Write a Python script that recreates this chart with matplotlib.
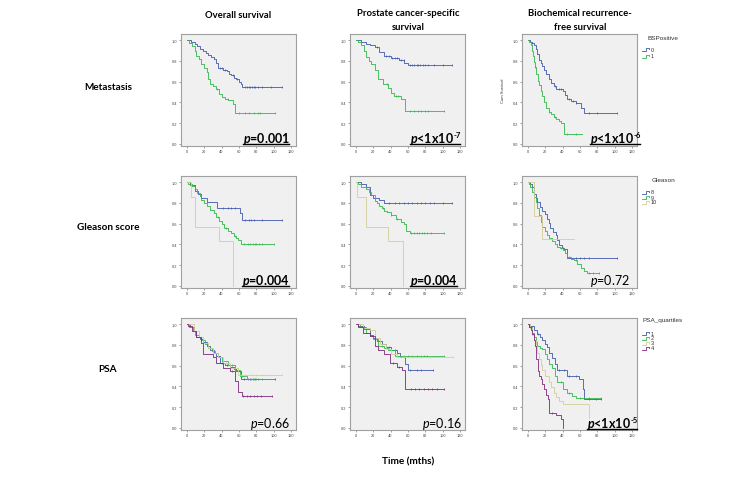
import numpy as np
import matplotlib
matplotlib.use("Agg")
import matplotlib.pyplot as plt
from matplotlib.lines import Line2D
from matplotlib.transforms import IdentityTransform

# ---------------- data ----------------
COLUMN_TITLES = ["Overall survival", "Prostate cancer-specific\nsurvival",
                 "Biochemical recurrence-\nfree survival"]
ROW_TITLES = ["Metastasis", "Gleason score", "PSA"]
X_LABEL = "Time (mths)"
X_TICKS = [0, 20, 40, 60, 80, 100, 120]
Y_TICKS = [0.0, 0.2, 0.4, 0.6, 0.8, 1.0]

LEGEND_TITLES = ["BSPositive", "Gleason", "PSA_quartiles"]
LEGEND_LABELS = [["0", "1"], ["8", "9", "10"], ["1", "2", "3", "4"]]

P_VALUES = ["=0.001", "<1x10", "<1x10", "=0.004", "=0.004", "=0.72", "=0.66", "=0.16", "<1x10"]
P_EXPONENTS = ["", "-7", "-6", "", "", "", "", "", "-5"]
P_SIGNIFICANT = [True, True, True, True, True, False, False, False, True]

# Overall survival - metastasis
OS_MET0_T = [0, 5, 9, 12, 15, 19, 22, 25, 28, 31, 34, 36, 42, 46, 49, 51, 54, 57, 60, 62, 64]
OS_MET0_S = [1.0, .98, .96, .94, .92, .90, .88, .86, .84, .82, .78, .73, .71, .70, .67, .66, .64, .63, .60, .58, .545]
OS_MET0_END = 110
OS_MET0_C = [38, 40, 44, 53, 58, 67, 69, 71, 73, 75, 77, 79, 82, 87, 97, 110]
OS_MET1_T = [0, 3, 6, 9, 11, 14, 17, 20, 23, 25, 27, 30, 34, 37, 40, 44, 48, 53, 56]
OS_MET1_S = [1.0, .97, .94, .90, .85, .82, .77, .73, .69, .63, .58, .56, .53, .48, .45, .43, .42, .385, .295]
OS_MET1_END = 101
OS_MET1_C = [35, 47, 60, 67, 72, 77, 82, 84, 101]

# Prostate cancer-specific survival - metastasis
PC_MET0_T = [0, 6, 12, 17, 22, 27, 33, 40, 50, 56, 60]
PC_MET0_S = [1.0, .98, .96, .95, .93, .89, .85, .83, .81, .785, .76]
PC_MET0_END = 111
PC_MET0_C = [25, 35, 38, 42, 45, 48, 52, 55, 62, 65, 67, 70, 72, 74, 77, 80, 83, 90, 100, 111]
PC_MET1_T = [0, 3, 6, 9, 12, 15, 18, 22, 26, 31, 37, 40, 44, 52, 57]
PC_MET1_S = [1.0, .98, .95, .90, .84, .80, .77, .71, .63, .58, .54, .49, .46, .43, .32]
PC_MET1_END = 101
PC_MET1_C = [36, 46, 49, 62, 67, 72, 75, 80, 83, 101]

# Biochemical recurrence-free survival - metastasis
BR_MET0_T = [0, 3, 5, 7, 9, 11, 13, 15, 17, 19, 21, 24, 27, 30, 33, 40, 43, 45, 50, 55, 61, 65]
BR_MET0_S = [1.0, .98, .97, .95, .92, .87, .81, .78, .75, .71, .67, .63, .59, .56, .53, .51, .47, .43, .41, .39, .35, .30]
BR_MET0_END = 103
BR_MET0_C = [5, 31, 36, 38, 47, 52, 56, 70, 80, 103]
BR_MET1_T = [0, 2, 4, 5, 6, 7, 8, 10, 12, 13, 15, 17, 19, 21, 24, 27, 30, 33, 36, 38, 42]
BR_MET1_S = [1.0, .98, .95, .90, .85, .79, .74, .67, .61, .57, .51, .46, .40, .35, .31, .29, .26, .24, .22, .20, .10]
BR_MET1_END = 62
BR_MET1_C = [8, 25, 31, 45, 55]

# Overall survival - Gleason
OS_GL8_T = [0, 4, 9, 13, 17, 23, 35, 61, 64]
OS_GL8_S = [1.0, .97, .92, .89, .85, .81, .75, .70, .64]
OS_GL8_END = 110
OS_GL8_C = [42, 47, 51, 56, 67, 71, 74, 77, 86, 110]
OS_GL9_T = [0, 2, 6, 9, 12, 15, 17, 20, 23, 27, 31, 34, 37, 40, 43, 48, 51, 54, 57, 59, 62]
OS_GL9_S = [1.0, .98, .96, .93, .90, .87, .83, .80, .77, .73, .70, .66, .63, .60, .56, .53, .51, .48, .46, .44, .40]
OS_GL9_END = 100
OS_GL9_C = [36, 45, 55, 66, 70, 73, 76, 78, 80, 83, 86, 100]
OS_GL10_T = [0, 5, 10, 37, 53]
OS_GL10_S = [1.0, .857, .571, .429, 0.0]
OS_GL10_END = 53
OS_GL10_C = []

# Prostate cancer-specific survival - Gleason
PC_GL8_T = [0, 6, 12, 16, 20, 27, 33]
PC_GL8_S = [1.0, .98, .95, .88, .85, .83, .80]
PC_GL8_END = 111
PC_GL8_C = [38, 45, 50, 55, 60, 65, 70, 75, 80, 85, 90, 100, 111]
PC_GL9_T = [0, 3, 6, 12, 15, 18, 22, 25, 27, 30, 33, 36, 40, 46, 52, 55, 58, 62]
PC_GL9_S = [1.0, .98, .95, .93, .91, .88, .82, .80, .77, .75, .72, .71, .68, .65, .62, .60, .53, .51]
PC_GL9_END = 101
PC_GL9_C = [31, 41, 48, 63, 67, 70, 73, 76, 79, 82, 86, 101]
PC_GL10_T = [0, 1, 12, 37, 54]
PC_GL10_S = [1.0, .857, .571, .429, 0.0]
PC_GL10_END = 54
PC_GL10_C = []

# Biochemical recurrence-free survival - Gleason
BR_GL8_T = [0, 3, 5, 7, 9, 11, 14, 17, 20, 22, 24, 26, 29, 32, 34, 36, 39, 42, 45]
BR_GL8_S = [1.0, .98, .95, .89, .85, .81, .76, .72, .69, .65, .61, .56, .52, .49, .44, .39, .37, .36, .27]
BR_GL8_END = 103
BR_GL8_C = [41, 50, 55, 60, 65, 70, 103]
BR_GL9_T = [0, 1, 3, 5, 7, 9, 11, 13, 15, 17, 20, 22, 25, 28, 31, 34, 37, 40, 43, 45, 50, 53, 57, 61, 65, 68]
BR_GL9_S = [1.0, .98, .95, .91, .86, .81, .75, .68, .62, .57, .53, .49, .46, .43, .40, .38, .37, .35, .32, .28, .26, .25, .21, .17, .14, .12]
BR_GL9_END = 82
BR_GL9_C = [38, 47, 56, 70, 75, 82]
BR_GL10_T = [0, 7, 17]
BR_GL10_S = [1.0, .67, .45]
BR_GL10_END = 53
BR_GL10_C = []

# Overall survival - PSA quartiles
OS_PSA1_T = [0, 4, 8, 11, 15, 19, 23, 27, 31, 34, 38, 44, 50, 54, 57, 62]
OS_PSA1_S = [1.0, .97, .93, .88, .86, .83, .79, .75, .72, .69, .63, .61, .59, .57, .545, .47]
OS_PSA1_END = 101
OS_PSA1_C = [36, 40, 46, 66, 70, 73, 76, 79, 82, 101]
OS_PSA2_T = [0, 3, 7, 10, 14, 17, 21, 25, 29, 32, 36, 40, 48, 55, 61, 69]
OS_PSA2_S = [1.0, .97, .93, .90, .88, .85, .81, .77, .74, .72, .68, .65, .61, .56, .50, .47]
OS_PSA2_END = 101
OS_PSA2_C = [42, 52, 64, 74, 77, 80, 86, 101]
OS_PSA3_T = [0, 8, 14, 19, 25, 30, 36, 42, 50, 59]
OS_PSA3_S = [1.0, .93, .88, .82, .77, .72, .68, .63, .58, .51]
OS_PSA3_END = 110
OS_PSA3_C = [45, 62, 68, 75, 80, 86, 95, 110]
OS_PSA4_T = [0, 2, 6, 11, 17, 19, 30, 34, 42, 50, 55, 59, 63]
OS_PSA4_S = [1.0, .98, .93, .88, .82, .71, .68, .63, .58, .55, .45, .35, .31]
OS_PSA4_END = 98
OS_PSA4_C = [52, 65, 69, 73, 77, 81, 85, 98]

# Prostate cancer-specific survival - PSA quartiles
PC_PSA1_T = [0, 3, 10, 16, 20, 24, 30, 35, 41, 47, 51, 57, 60]
PC_PSA1_S = [1.0, .98, .95, .90, .87, .84, .81, .78, .75, .72, .68, .62, .555]
PC_PSA1_END = 89
PC_PSA1_C = [38, 45, 62, 70, 75, 89]
PC_PSA2_T = [0, 5, 12, 16, 20, 26, 32, 37, 45]
PC_PSA2_S = [1.0, .97, .92, .89, .86, .79, .77, .75, .69]
PC_PSA2_END = 101
PC_PSA2_C = [30, 48, 55, 60, 65, 70, 75, 78, 82, 101]
PC_PSA3_T = [0, 8, 16, 22, 28, 35, 41, 47]
PC_PSA3_S = [1.0, .96, .94, .87, .81, .76, .71, .68]
PC_PSA3_END = 112
PC_PSA3_C = [55, 65, 75, 85, 112]
PC_PSA4_T = [0, 3, 8, 16, 22, 26, 33, 39, 47, 53, 57]
PC_PSA4_S = [1.0, .97, .92, .89, .79, .75, .71, .63, .59, .555, .38]
PC_PSA4_END = 101
PC_PSA4_C = [43, 50, 63, 68, 73, 78, 83, 88, 93, 101]

# Biochemical recurrence-free survival - PSA quartiles
BR_PSA1_T = [0, 3, 7, 11, 14, 17, 20, 22, 25, 28, 31, 34, 45, 59, 63, 65]
BR_PSA1_S = [1.0, .98, .94, .91, .88, .85, .81, .78, .72, .67, .62, .56, .50, .47, .38, .28]
BR_PSA1_END = 84
BR_PSA1_C = [12, 36, 42, 48, 55, 70, 78, 84]
BR_PSA2_T = [0, 2, 5, 7, 9, 11, 14, 17, 20, 22, 25, 28, 31, 34, 40, 45, 51, 55]
BR_PSA2_S = [1.0, .97, .92, .88, .83, .79, .77, .76, .71, .66, .62, .58, .50, .44, .38, .34, .31, .29]
BR_PSA2_END = 84
BR_PSA2_C = [38, 48, 60, 70, 84]
BR_PSA3_T = [0, 3, 5, 7, 9, 11, 13, 15, 17, 20, 24, 27, 30, 33, 36, 41, 70]
BR_PSA3_S = [1.0, .96, .90, .85, .79, .72, .66, .61, .56, .50, .44, .39, .34, .30, .26, .23, .10]
BR_PSA3_END = 70
BR_PSA3_C = []
BR_PSA4_T = [0, 2, 4, 5, 7, 8, 10, 12, 13, 15, 17, 19, 21, 23, 24, 32, 38, 40]
BR_PSA4_S = [1.0, .97, .94, .91, .85, .79, .66, .55, .50, .47, .42, .38, .32, .28, .14, .12, .09, 0.0]
BR_PSA4_END = 40
BR_PSA4_C = [28]

COLORS = ["#3E58AC", "#2EB848", "#D3CE97", "#7C287D"]

PANELS = [
    [[(OS_MET0_T, OS_MET0_S, OS_MET0_END, OS_MET0_C), (OS_MET1_T, OS_MET1_S, OS_MET1_END, OS_MET1_C)],
     [(PC_MET0_T, PC_MET0_S, PC_MET0_END, PC_MET0_C), (PC_MET1_T, PC_MET1_S, PC_MET1_END, PC_MET1_C)],
     [(BR_MET0_T, BR_MET0_S, BR_MET0_END, BR_MET0_C), (BR_MET1_T, BR_MET1_S, BR_MET1_END, BR_MET1_C)]],
    [[(OS_GL8_T, OS_GL8_S, OS_GL8_END, OS_GL8_C), (OS_GL9_T, OS_GL9_S, OS_GL9_END, OS_GL9_C),
      (OS_GL10_T, OS_GL10_S, OS_GL10_END, OS_GL10_C)],
     [(PC_GL8_T, PC_GL8_S, PC_GL8_END, PC_GL8_C), (PC_GL9_T, PC_GL9_S, PC_GL9_END, PC_GL9_C),
      (PC_GL10_T, PC_GL10_S, PC_GL10_END, PC_GL10_C)],
     [(BR_GL8_T, BR_GL8_S, BR_GL8_END, BR_GL8_C), (BR_GL9_T, BR_GL9_S, BR_GL9_END, BR_GL9_C),
      (BR_GL10_T, BR_GL10_S, BR_GL10_END, BR_GL10_C)]],
    [[(OS_PSA1_T, OS_PSA1_S, OS_PSA1_END, OS_PSA1_C), (OS_PSA2_T, OS_PSA2_S, OS_PSA2_END, OS_PSA2_C),
      (OS_PSA3_T, OS_PSA3_S, OS_PSA3_END, OS_PSA3_C), (OS_PSA4_T, OS_PSA4_S, OS_PSA4_END, OS_PSA4_C)],
     [(PC_PSA1_T, PC_PSA1_S, PC_PSA1_END, PC_PSA1_C), (PC_PSA2_T, PC_PSA2_S, PC_PSA2_END, PC_PSA2_C),
      (PC_PSA3_T, PC_PSA3_S, PC_PSA3_END, PC_PSA3_C), (PC_PSA4_T, PC_PSA4_S, PC_PSA4_END, PC_PSA4_C)],
     [(BR_PSA1_T, BR_PSA1_S, BR_PSA1_END, BR_PSA1_C), (BR_PSA2_T, BR_PSA2_S, BR_PSA2_END, BR_PSA2_C),
      (BR_PSA3_T, BR_PSA3_S, BR_PSA3_END, BR_PSA3_C), (BR_PSA4_T, BR_PSA4_S, BR_PSA4_END, BR_PSA4_C)]],
]

# ---------------- layout ----------------
TITLE_FONT = "Lato"
SPSS_FONT = "Liberation Sans"
plt.rcParams["mathtext.fontset"] = "custom"
plt.rcParams["mathtext.rm"] = "Lato"
plt.rcParams["mathtext.it"] = "Lato:italic"
plt.rcParams["mathtext.bf"] = "Lato:bold"
HAS_BFIT = "mathtext.bfit" in plt.rcParams
if HAS_BFIT:
    plt.rcParams["mathtext.bfit"] = "Lato:italic:bold"

W, H = 755, 485
fig = plt.figure(figsize=(W / 100, H / 100), dpi=100)
fig.patch.set_facecolor("white")

COL_LEFT = [181, 350, 522]
ROW_TOP = [35, 177, 319]
AX_W, AX_H = 115, 112
P_RIGHT = [[290, 461, 641], [290, 458, 630], [290, 462, 638]]
P_BASE = [143, 285, 428]


def px_rect(l, t, w, h):
    return [l / W, (H - t - h) / H, w / W, h / H]


def km(ax, t, s, end, censor, color):
    tt = list(t) + [end]
    ss = list(s) + [s[-1]]
    ax.step(tt, ss, where="post", color=color, lw=0.6)
    if censor:
        idx = np.searchsorted(np.array(t), np.array(censor), side="right") - 1
        ax.plot(censor, np.array(s)[idx], ls="none", marker="|", ms=2.0,
                mew=0.5, color=color)


renderer = fig.canvas.get_renderer()


def rich(pieces, x_right, baseline, underline):
    arts, widths = [], []
    for s, kw, rise in pieces:
        a = fig.text(0, 0, s, transform=IdentityTransform(), va="baseline",
                     ha="left", color="black", **kw)
        widths.append(a.get_window_extent(renderer).width)
        arts.append((a, rise))
    x = x_right - sum(widths)
    x0 = x
    for (a, rise), w in zip(arts, widths):
        a.set_position((x, H - baseline + rise))
        x += w
    if underline:
        fig.add_artist(Line2D([x0, x_right - 1], [H - baseline - 2.2] * 2,
                              transform=IdentityTransform(), color="black", lw=1.0))


for r in range(3):
    for c in range(3):
        ax = fig.add_axes(px_rect(COL_LEFT[c], ROW_TOP[r], AX_W, AX_H))
        ax.set_facecolor("#F0F0F0")
        for sp in ax.spines.values():
            sp.set_color("#A0A0A0")
            sp.set_linewidth(0.8)
        for k, (t, s, end, cen) in enumerate(PANELS[r][c]):
            km(ax, t, s, end, cen, COLORS[k])
        ax.set_xlim(-6.5, 125.5)
        ax.set_ylim(-0.02, 1.06)
        ax.set_xticks(X_TICKS)
        ax.set_xticklabels([str(v) for v in X_TICKS])
        ax.set_yticks(Y_TICKS)
        ax.set_yticklabels(["%.1f" % v for v in Y_TICKS])
        ax.tick_params(length=1.5, width=0.4, color="#555555", labelsize=2.8,
                       labelcolor="#444444", pad=1)
        for lab in ax.get_xticklabels() + ax.get_yticklabels():
            lab.set_family(SPSS_FONT)
        if r == 0 and c == 2:
            ax.set_ylabel("Cum Survival", fontsize=3, family=SPSS_FONT, color="#333333")
            ax.yaxis.set_label_coords(-0.15, 0.5)

        i = r * 3 + c
        bold = P_SIGNIFICANT[i]
        weight = "bold" if bold else "normal"
        if bold and HAS_BFIT:
            pstr = r"$\mathbfit{p}$"
        else:
            pstr = r"$\mathit{p}$"
        pieces = [(pstr + P_VALUES[i], dict(family=TITLE_FONT, size=9, weight=weight), 0)]
        if P_EXPONENTS[i]:
            pieces.append((P_EXPONENTS[i], dict(family=TITLE_FONT, size=5.5, weight=weight), 5))
        rich(pieces, P_RIGHT[r][c], P_BASE[r], bold)

# column / row titles
COL_CX = [238, 408, 580]
COL_TOP = [11, 9, 9]
for c in range(3):
    fig.text(COL_CX[c] / W, (H - COL_TOP[c]) / H, COLUMN_TITLES[c], ha="center", va="top",
             family=TITLE_FONT, weight="bold", size=6.8, linespacing=1.65)
ROW_CY = [88, 228, 370]
for r in range(3):
    fig.text(108 / W, (H - ROW_CY[r]) / H, ROW_TITLES[r], ha="center", va="center",
             family=TITLE_FONT, weight="bold", size=7.2)
fig.text(408 / W, (H - 462) / H, X_LABEL, ha="center", va="center",
         family=TITLE_FONT, weight="bold", size=7.2)

# legends
LEG_TITLE_Y = [38, 181, 321]
LEG_ENTRY_Y = [[50, 57], [193, 198, 203], [334, 339, 344, 349]]
for r in range(3):
    fig.text(663 / W, (H - LEG_TITLE_Y[r]) / H, LEGEND_TITLES[r], ha="center", va="center",
             family=SPSS_FONT, size=4.6, color="#333333")
    for k, lab in enumerate(LEGEND_LABELS[r]):
        yc = H - LEG_ENTRY_Y[r][k]
        xs = [642, 646, 646, 649, 649]
        ys = [yc - 1.5, yc - 1.5, yc + 1.5, yc + 1.5, yc]
        fig.add_artist(Line2D(xs, ys, transform=IdentityTransform(), color=COLORS[k], lw=0.6))
        fig.text(650.5 / W, yc / H, lab, ha="left", va="center", family=SPSS_FONT,
                 size=4.0, color="#333333")

fig.savefig("out.png", dpi=100)
